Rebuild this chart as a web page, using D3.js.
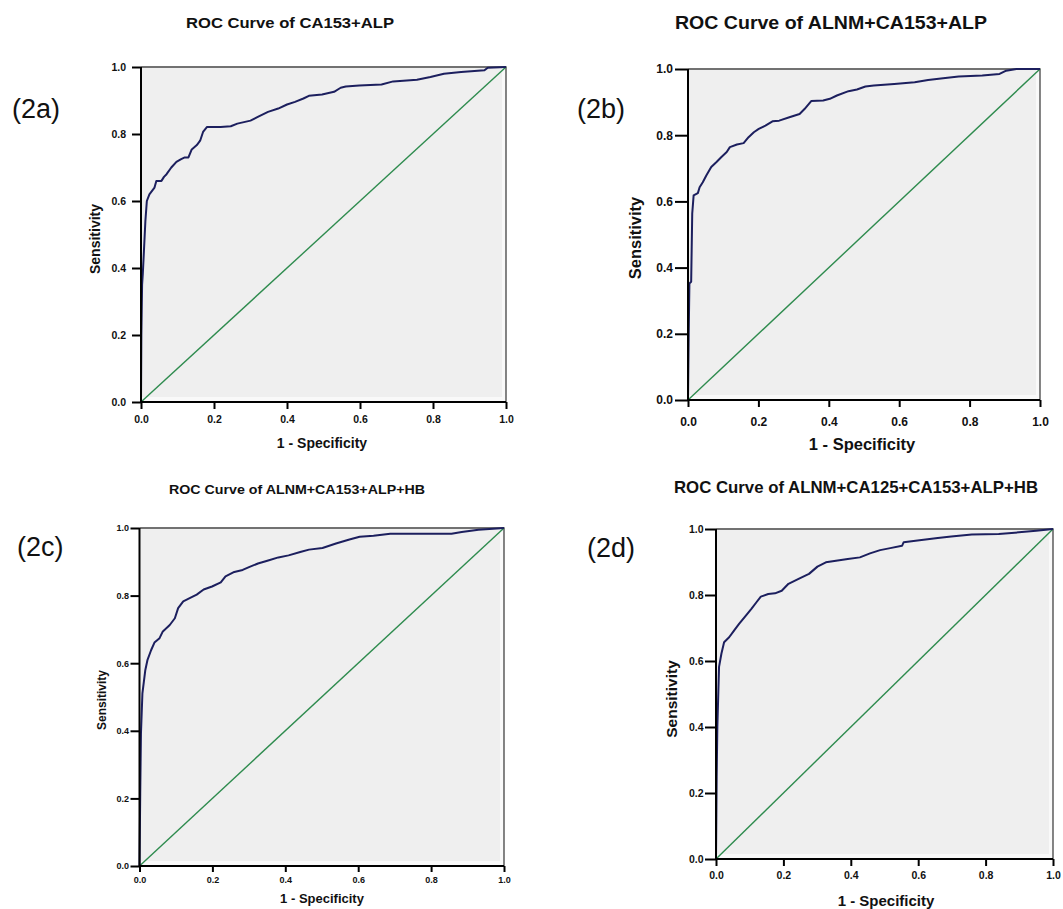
<!DOCTYPE html>
<html>
<head>
<meta charset="utf-8">
<script src="https://cdn.jsdelivr.net/npm/d3@7"></script>
<style>
  html, body { margin: 0; padding: 0; background: #ffffff; }
  svg { display: block; }
  text { font-family: Arial, "Liberation Sans", Helvetica, sans-serif; fill: #111; }
</style>
</head>
<body>
<svg id="chart" width="1063" height="909"></svg>
<script>
// ---------------- DATA ----------------
const panelIds = ["(2a)", "(2b)", "(2c)", "(2d)"];
const titles = [
  "ROC Curve of CA153+ALP",
  "ROC Curve of ALNM+CA153+ALP",
  "ROC Curve of ALNM+CA153+ALP+HB",
  "ROC Curve of ALNM+CA125+CA153+ALP+HB"
];
const xAxisTitle = "1 - Specificity";
const yAxisTitle = "Sensitivity";
const tickValues = [0, 0.2, 0.4, 0.6, 0.8, 1.0];
const tickLabels = ["0.0", "0.2", "0.4", "0.6", "0.8", "1.0"];
const referenceLine = [[0, 0], [1, 1]];

// ROC curves: [1 - specificity, sensitivity]
const rocA = [
  [0,0],[0.001,0.20],[0.003,0.35],[0.005,0.384],[0.008,0.45],[0.012,0.54],[0.016,0.60],[0.023,0.62],
  [0.037,0.64],[0.042,0.66],[0.056,0.66],[0.063,0.672],[0.07,0.68],[0.083,0.70],[0.097,0.717],
  [0.11,0.725],[0.12,0.73],[0.13,0.73],[0.139,0.754],[0.153,0.767],[0.162,0.78],[0.17,0.806],
  [0.181,0.821],[0.218,0.821],[0.246,0.823],[0.264,0.831],[0.30,0.84],[0.32,0.851],[0.348,0.866],
  [0.376,0.876],[0.40,0.888],[0.422,0.896],[0.445,0.906],[0.46,0.914],[0.496,0.918],[0.529,0.926],
  [0.547,0.938],[0.561,0.942],[0.598,0.945],[0.659,0.948],[0.691,0.957],[0.756,0.962],[0.793,0.97],
  [0.83,0.98],[0.877,0.985],[0.941,0.99],[0.95,0.998],[1,1]
];
const rocB = [
  [0,0],[0.002,0.20],[0.004,0.352],[0.009,0.357],[0.012,0.563],[0.016,0.618],[0.028,0.625],
  [0.033,0.643],[0.042,0.658],[0.052,0.678],[0.066,0.704],[0.081,0.719],[0.095,0.734],[0.11,0.749],
  [0.119,0.764],[0.139,0.772],[0.158,0.776],[0.172,0.794],[0.187,0.809],[0.201,0.819],[0.22,0.829],
  [0.24,0.842],[0.259,0.844],[0.288,0.854],[0.317,0.864],[0.331,0.879],[0.35,0.903],[0.384,0.905],
  [0.403,0.91],[0.423,0.92],[0.456,0.933],[0.48,0.938],[0.504,0.947],[0.528,0.95],[0.586,0.955],
  [0.644,0.96],[0.682,0.967],[0.731,0.973],[0.769,0.977],[0.836,0.98],[0.885,0.985],[0.904,0.995],
  [0.933,1.0],[1,1]
];
const rocC = [
  [0,0],[0.002,0.214],[0.004,0.392],[0.008,0.511],[0.016,0.58],[0.022,0.61],[0.032,0.639],
  [0.041,0.661],[0.055,0.674],[0.064,0.694],[0.083,0.713],[0.097,0.733],[0.106,0.763],[0.12,0.783],
  [0.139,0.793],[0.157,0.803],[0.176,0.818],[0.199,0.827],[0.223,0.839],[0.236,0.857],[0.26,0.87],
  [0.283,0.876],[0.302,0.885],[0.325,0.895],[0.353,0.904],[0.381,0.913],[0.409,0.919],[0.441,0.929],
  [0.465,0.936],[0.502,0.941],[0.539,0.954],[0.576,0.966],[0.604,0.974],[0.642,0.977],[0.688,0.983],
  [0.763,0.983],[0.856,0.983],[0.884,0.988],[0.93,0.995],[1,1]
];
const rocD = [
  [0,0],[0.002,0.249],[0.004,0.40],[0.009,0.582],[0.016,0.622],[0.024,0.657],[0.039,0.672],
  [0.054,0.693],[0.069,0.713],[0.085,0.733],[0.105,0.758],[0.12,0.778],[0.133,0.795],[0.155,0.803],
  [0.175,0.805],[0.195,0.813],[0.215,0.834],[0.245,0.849],[0.276,0.864],[0.301,0.886],[0.326,0.899],
  [0.356,0.904],[0.391,0.909],[0.427,0.914],[0.457,0.926],[0.487,0.936],[0.517,0.942],[0.552,0.949],
  [0.557,0.96],[0.598,0.965],[0.658,0.973],[0.698,0.977],[0.759,0.983],[0.839,0.985],[0.899,0.99],
  [0.95,0.995],[1,1]
];
const rocCurves = [rocA, rocB, rocC, rocD];

// ---------------- LAYOUT (positions / styles only) ----------------
const layout = [
  { x0: 141, x1: 506, y0: 67, y1: 402, yTick: 9, xTick: 7, tickFont: 10.5, yLabGap: 6, xLabOff: 21,
    title: { cx: 290, by: 28, size: 15, w: 208 }, id: { x: 12, by: 118, size: 27 },
    xt: { cx: 322, by: 448, size: 14 }, yt: { cx: 95, cy: 239, size: 14 } },
  { x0: 688, x1: 1040, y0: 69, y1: 400, yTick: 13, xTick: 7, tickFont: 12, yLabGap: 2, xLabOff: 26,
    title: { cx: 831, by: 29, size: 18, w: 312 }, id: { x: 577, by: 118, size: 27 },
    xt: { cx: 862, by: 450, size: 16.5 }, yt: { cx: 635, cy: 238, size: 16.5 } },
  { x0: 139.5, x1: 504, y0: 528, y1: 866, yTick: 9, xTick: 6, tickFont: 9, yLabGap: 1.5, xLabOff: 16.5,
    title: { cx: 297, by: 494, size: 12, w: 256 }, id: { x: 17, by: 556, size: 27 },
    xt: { cx: 322, by: 903, size: 13 }, yt: { cx: 102, cy: 700, size: 12 } },
  { x0: 716, x1: 1053, y0: 529, y1: 859, yTick: 11, xTick: 7, tickFont: 10.5, yLabGap: 1.5, xLabOff: 20,
    title: { cx: 856, by: 493, size: 17, w: 364 }, id: { x: 587, by: 557, size: 27 },
    xt: { cx: 886, by: 906, size: 15 }, yt: { cx: 672, cy: 699, size: 15.5 } }
];

const svg = d3.select("#chart");

layout.forEach((L, i) => {
  const g = svg.append("g");
  const x = d3.scaleLinear().domain([0, 1]).range([L.x0, L.x1]);
  const y = d3.scaleLinear().domain([0, 1]).range([L.y1, L.y0]);

  // plot background
  g.append("rect")
    .attr("x", L.x0).attr("y", L.y0)
    .attr("width", L.x1 - L.x0).attr("height", L.y1 - L.y0)
    .attr("fill", "#f9f9f9");
  g.append("rect")
    .attr("x", L.x0 + 1).attr("y", L.y0 + 1)
    .attr("width", L.x1 - L.x0 - 5).attr("height", L.y1 - L.y0 - 6)
    .attr("fill", "#efefef");

  // frame top / right
  g.append("path")
    .attr("d", `M${L.x0},${L.y0}H${L.x1}V${L.y1}`)
    .attr("fill", "none").attr("stroke", "#444").attr("stroke-width", 1.3);

  // reference diagonal
  const line = d3.line().x(d => x(d[0])).y(d => y(d[1]));
  g.append("path").datum(referenceLine)
    .attr("d", line).attr("fill", "none")
    .attr("stroke", "#2e8b4e").attr("stroke-width", 1.4);

  // ROC curve
  g.append("path").datum(rocCurves[i])
    .attr("d", line).attr("fill", "none")
    .attr("stroke", "#1c1f5e").attr("stroke-width", 2)
    .attr("stroke-linejoin", "round");

  // x axis
  const xAxis = d3.axisBottom(x).tickValues(tickValues)
    .tickFormat((d, k) => tickLabels[k]).tickSize(L.xTick).tickPadding(0);
  const gx = g.append("g").attr("transform", `translate(0,${L.y1})`).call(xAxis);
  gx.select(".domain").attr("stroke", "#000").attr("stroke-width", 2)
    .attr("d", `M${L.x0 - 0},0H${L.x1}`);
  gx.selectAll(".tick line").attr("stroke", "#000").attr("stroke-width", 2);
  gx.selectAll(".tick text")
    .attr("y", L.xLabOff).attr("dy", 0)
    .style("font-size", L.tickFont + "px").style("font-weight", "bold").attr("fill", "#222");

  // y axis
  const yAxis = d3.axisLeft(y).tickValues(tickValues)
    .tickFormat((d, k) => tickLabels[k]).tickSize(L.yTick).tickPadding(L.yLabGap);
  const gy = g.append("g").attr("transform", `translate(${L.x0},0)`).call(yAxis);
  gy.select(".domain").attr("stroke", "#000").attr("stroke-width", 2)
    .attr("d", `M0,${L.y1 + 1}V${L.y0}`);
  gy.selectAll(".tick line").attr("stroke", "#000").attr("stroke-width", 2);
  gy.selectAll(".tick text")
    .style("font-size", L.tickFont + "px").style("font-weight", "bold").attr("fill", "#222");

  // title
  g.append("text")
    .attr("x", L.title.cx).attr("y", L.title.by)
    .attr("text-anchor", "middle")
    .attr("textLength", L.title.w).attr("lengthAdjust", "spacingAndGlyphs")
    .style("font-size", L.title.size + "px").style("font-weight", "bold")
    .text(titles[i]);

  // panel id
  g.append("text")
    .attr("x", L.id.x).attr("y", L.id.by)
    .style("font-size", L.id.size + "px")
    .text(panelIds[i]);

  // axis titles
  g.append("text")
    .attr("x", L.xt.cx).attr("y", L.xt.by)
    .attr("text-anchor", "middle")
    .style("font-size", L.xt.size + "px").style("font-weight", "bold")
    .text(xAxisTitle);
  g.append("text")
    .attr("transform", `translate(${L.yt.cx},${L.yt.cy}) rotate(-90)`)
    .attr("text-anchor", "middle").attr("dy", "0.35em")
    .style("font-size", L.yt.size + "px").style("font-weight", "bold")
    .text(yAxisTitle);
});
</script>
</body>
</html>
